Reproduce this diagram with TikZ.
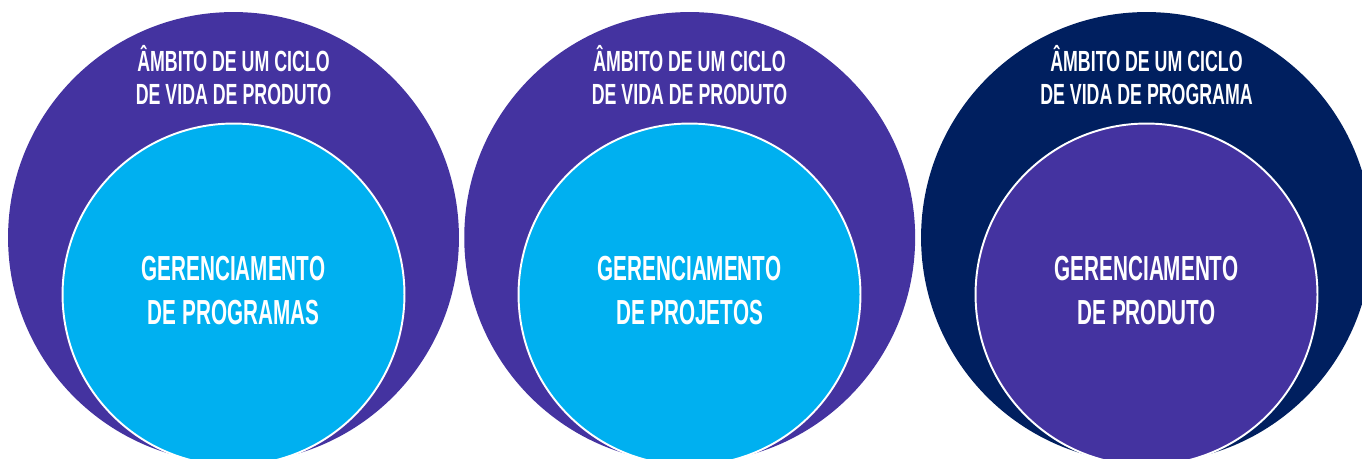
\documentclass[tikz,border=0pt]{standalone}
\usepackage{fontspec}
\newfontfamily\scopefont[FakeStretch=0.61]{Liberation Sans}
\newfontfamily\mgmtfont[FakeStretch=0.595]{Liberation Sans}
\definecolor{violet}{HTML}{4433A0}
\definecolor{skyblue}{HTML}{00B0F0}
\definecolor{navy}{HTML}{001F5F}

\begin{document}
\begin{tikzpicture}[x=0.02cm,y=-0.02cm,outer/.style={circle,minimum size=9.02cm,inner sep=0pt},inner/.style={circle,draw=white,line width=1.1pt,minimum size=6.84cm,inner sep=0pt},mgmttext/.style={align=center,text=white,inner sep=0pt,font=\mgmtfont\bfseries\fontsize{19.8}{25}\selectfont},scopetext/.style={align=center,text=white,inner sep=0pt,font=\scopefont\bfseries\fontsize{16.6}{19}\selectfont}]
\path[use as bounding box,clip] (0,0) rectangle (1362,459);
\node[outer,fill=violet] (prodA) at (233.5,237.5){};
\node[outer,fill=violet] (prodB) at (689.7,237.5){};
\node[outer,fill=navy] (prog) at (1146.5,237.5){};
\node[inner,fill=skyblue] (programas) at (233.5,294.5){};
\node[inner,fill=skyblue] (projetos) at (689.5,294.5){};
\node[inner,fill=violet] (produto) at (1146.5,294.5){};
\node[mgmttext] (programasText) at (233.5,290.5){GERENCIAMENTO\\DE PROGRAMAS};
\node[mgmttext] (projetosText) at (689.5,290.5){GERENCIAMENTO\\DE PROJETOS};
\node[mgmttext] (produtoText) at (1146.5,290.5){GERENCIAMENTO\\DE PRODUTO};
\node[scopetext] (scopeA) at (233.5,75){ÂMBITO DE UM CICLO\\DE VIDA DE PRODUTO};
\node[scopetext] (scopeB) at (689.5,75){ÂMBITO DE UM CICLO\\DE VIDA DE PRODUTO};
\node[scopetext] (scopeC) at (1146.5,75){ÂMBITO DE UM CICLO\\DE VIDA DE PROGRAMA};
\end{tikzpicture}
\end{document}
